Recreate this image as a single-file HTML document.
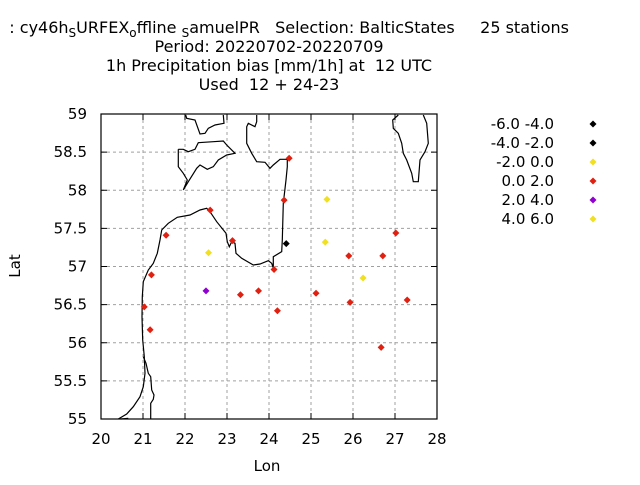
<!DOCTYPE html>
<html><head><meta charset="utf-8"><style>
body{margin:0;background:#fff}
svg text{font-family:"DejaVu Sans","Liberation Sans",sans-serif;font-size:15px;fill:#000}
</style></head><body>
<svg id="chart" width="640" height="480" xmlns="http://www.w3.org/2000/svg">
<g style="font-size:16px" xml:space="preserve">
<text x="569" y="33" text-anchor="end" style="font-size:16px" xml:space="preserve">: cy46h<tspan font-size="12" dy="4">S</tspan><tspan dy="-4">URFEX</tspan><tspan font-size="12" dy="4">o</tspan><tspan dy="-4">ffline </tspan><tspan font-size="12" dy="4">S</tspan><tspan dy="-4">amuelPR   Selection: BalticStates     25 stations</tspan></text>
<text x="269" y="52" text-anchor="middle" style="font-size:16px">Period: 20220702-20220709</text>
<text x="269" y="71" text-anchor="middle" style="font-size:16px" xml:space="preserve">1h Precipitation bias [mm/1h] at  12 UTC</text>
<text x="269" y="90" text-anchor="middle" style="font-size:16px" xml:space="preserve">Used  12 + 24-23</text>
</g>
<g id="grid"></g>
<g id="coast" fill="none" stroke="#000" stroke-width="1.2"></g>
<rect x="101" y="114" width="336" height="305" fill="none" stroke="#000" stroke-width="1.2"/>
<g id="ticks"></g>
<g id="points"></g>
<text x="20" y="266" text-anchor="middle" transform="rotate(-90 20 266)">Lat</text>
<text x="267" y="471" text-anchor="middle">Lon</text>
<g id="legend"></g>
</svg>
<script>
const lonTicks=[20,21,22,23,24,25,26,27,28];
const latTicks=[55,55.5,56,56.5,57,57.5,58,58.5,59];
const latTickLabels=["55","55.5","56","56.5","57","57.5","58","58.5","59"];
const stationLon=[24.48,24.36,25.38,22.60,21.55,23.13,24.41,25.34,27.02,22.56,25.90,26.71,21.20,24.12,26.24,22.50,23.32,23.75,25.12,25.93,27.29,21.03,24.20,21.17,26.67];
const stationLat=[58.42,57.87,57.88,57.74,57.41,57.34,57.30,57.32,57.44,57.18,57.14,57.14,56.89,56.96,56.85,56.68,56.63,56.68,56.65,56.53,56.56,56.47,56.42,56.17,55.94];
const stationClass=[3,3,5,3,3,3,1,5,3,2,3,3,3,3,2,4,3,3,3,3,3,3,3,3,3];
const legendLabels=["-6.0 -4.0","-4.0 -2.0","-2.0 0.0","0.0 2.0","2.0 4.0","4.0 6.0"];
const classColors=["#000000","#000000","#f0e020","#e02010","#9000d0","#f0e020"];
const NS="http://www.w3.org/2000/svg";
const X=v=>101+(v-20)*42, Y=v=>419-(v-55)*76.25;
function mk(tag,attrs,parent){const e=document.createElementNS(NS,tag);for(const k in attrs)e.setAttribute(k,attrs[k]);parent.appendChild(e);return e;}
const grid=document.getElementById('grid'),ticks=document.getElementById('ticks');
lonTicks.forEach(v=>{
 if(v>20&&v<28){const l=mk('line',{x1:X(v),x2:X(v),y1:114,y2:419,stroke:'#a0a0a0','stroke-dasharray':'3,3'},grid);
 
 
 mk('line',{x1:X(v),x2:X(v),y1:419,y2:413,stroke:'#000'},ticks);mk('line',{x1:X(v),x2:X(v),y1:114,y2:120,stroke:'#000'},ticks);}
 const t=mk('text',{x:X(v),y:444,'text-anchor':'middle'},ticks);t.textContent=v;
 
 
});
latTicks.forEach((v,i)=>{
 if(v>55&&v<59){const l=mk('line',{x1:101,x2:437,y1:Y(v),y2:Y(v),stroke:'#a0a0a0','stroke-dasharray':'3,3'},grid);
 
 
 mk('line',{x1:101,x2:107,y1:Y(v),y2:Y(v),stroke:'#000'},ticks);mk('line',{x1:431,x2:437,y1:Y(v),y2:Y(v),stroke:'#000'},ticks);}
 const t=mk('text',{x:87,y:Y(v)+5,'text-anchor':'end'},ticks);t.textContent=latTickLabels[i];
 
 
});
const coastPaths=[
[[55,927],[80,912],[100,890],[120,860],[130,830],[135,790],[133,740],[128,690],[126,620],[127,560],[130,515],[145,480],[160,460],[172,430],[180,390],[185,360],[205,340],[232,322],[270,315],[300,300],[320,295],[330,305],[350,335],[378,370],[382,395],[388,410],[395,395],[405,400],[408,430],[425,445],[460,465],[480,462],[505,452],[515,460],[520,475],[520,440],[545,425],[547,390],[550,280],[558,210],[562,170],[562,148],[540,148],[520,165],[510,175],[495,157],[470,155],[455,130],[440,100],[440,50],[445,40],[465,50],[470,35],[470,15]],
[[235,118],[235,170],[250,190],[262,210],[250,240],[265,215],[290,175],[300,165],[322,178],[340,170],[355,150],[380,135],[405,130],[380,105],[370,93],[340,95],[295,98],[285,118],[265,125],[250,118],[235,118]],
[[257,15],[260,25],[285,30],[300,72],[315,70],[325,55],[345,45],[372,40],[370,15]],
[[895,15],[878,30],[880,55],[895,70],[905,100],[910,130],[920,150],[935,190],[940,215],[955,215],[960,150],[975,125],[985,100],[980,40],[970,15]],
[[130,740],[138,760],[145,790],[152,800],[155,840],[162,855],[160,868],[152,880],[152,927]],
[[62,927],[85,925]]];
const coast=document.getElementById('coast');
coastPaths.forEach(p=>{mk('polyline',{points:p.map(q=>(q[0]/3+100).toFixed(1)+','+(q[1]/3+110).toFixed(1)).join(' ')},coast);});
const pts=document.getElementById('points');
function diamond(cx,cy,r){return `${cx},${cy-r} ${cx+r},${cy} ${cx},${cy+r} ${cx-r},${cy}`;}
stationLon.forEach((lo,i)=>{
 const d=mk('polygon',{points:diamond(X(lo),Y(stationLat[i]),3.5),fill:classColors[stationClass[i]]},pts);
 
 
});
const leg=document.getElementById('legend');
legendLabels.forEach((l,i)=>{
 const y=124+i*19;
 const t=mk('text',{x:554,y:y+5,'text-anchor':'end'},leg);t.textContent=l;
 
 
 const m=mk('polygon',{points:diamond(593,y,3.5),fill:classColors[i]},leg);
 
 
});
</script>
</body></html>
